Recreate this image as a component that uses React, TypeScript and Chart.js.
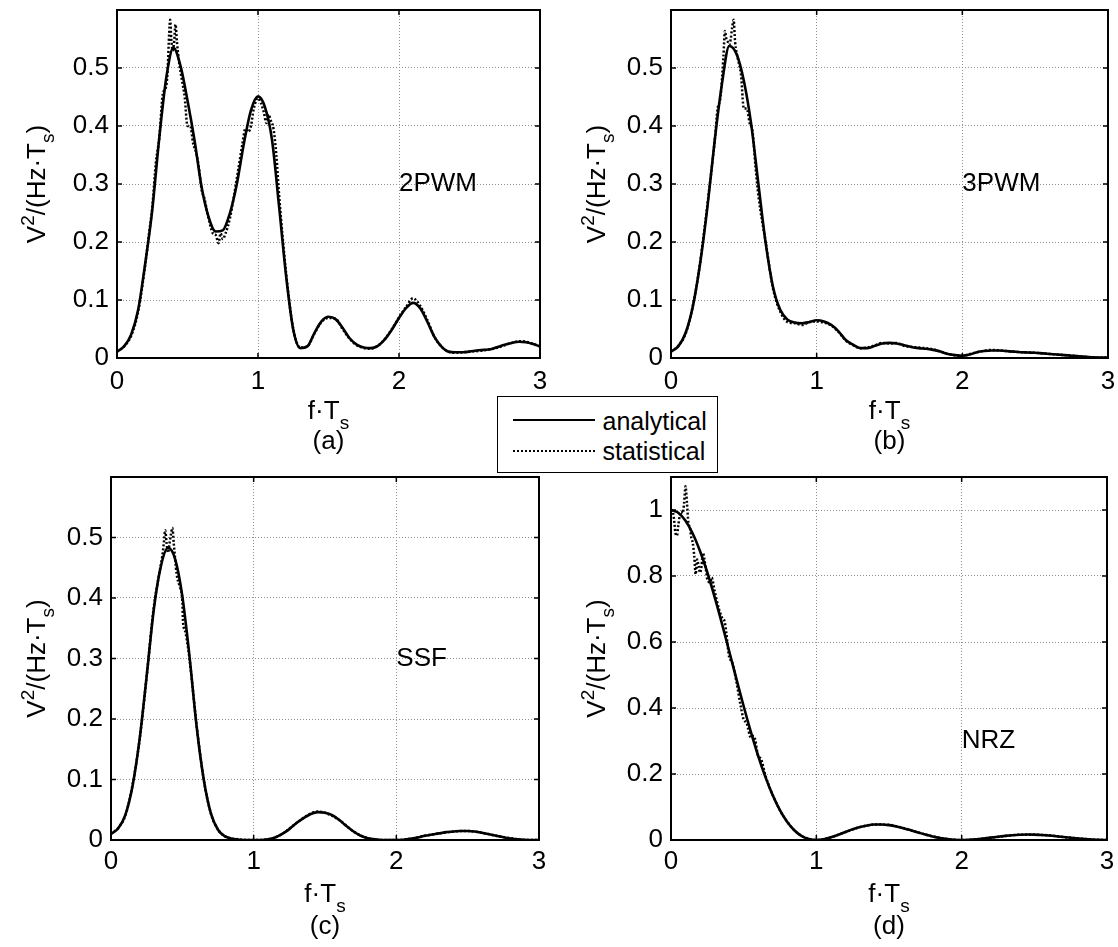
import React, { useEffect, useRef } from "react";
import { Chart, registerables } from "chart.js";

Chart.register(...registerables);

const FONT = '"Liberation Sans", Arial, Helvetica, sans-serif';
const FS = 25;
const SUB = 19;

// ---------- data ----------
const freqGrid = [0,0.05,0.1,0.15,0.2,0.25,0.3,0.35,0.4,0.45,0.5,0.55,0.6,0.65,0.7,0.75,0.8,0.85,0.9,0.95,1,1.05,1.1,1.15,1.2,1.25,1.3,1.35,1.4,1.45,1.5,1.55,1.6,1.65,1.7,1.75,1.8,1.85,1.9,1.95,2,2.05,2.1,2.15,2.2,2.25,2.3,2.35,2.4,2.45,2.5,2.55,2.6,2.65,2.7,2.75,2.8,2.85,2.9,2.95,3];

const pwm2Analytical = [0.011,0.02,0.04,0.083,0.163,0.255,0.38,0.484,0.535,0.504,0.444,0.375,0.295,0.243,0.218,0.22,0.249,0.3,0.37,0.427,0.451,0.432,0.375,0.26,0.14,0.049,0.017,0.02,0.043,0.063,0.071,0.067,0.052,0.034,0.023,0.018,0.017,0.021,0.032,0.049,0.069,0.086,0.095,0.086,0.063,0.037,0.02,0.011,0.01,0.01,0.011,0.013,0.014,0.015,0.019,0.023,0.026,0.028,0.027,0.024,0.02];
const pwm3Analytical = [0.011,0.02,0.043,0.089,0.163,0.26,0.375,0.473,0.538,0.524,0.478,0.404,0.3,0.198,0.123,0.083,0.066,0.061,0.06,0.062,0.065,0.063,0.057,0.046,0.031,0.023,0.017,0.017,0.021,0.025,0.026,0.025,0.022,0.019,0.017,0.016,0.014,0.011,0.007,0.005,0.004,0.006,0.01,0.012,0.013,0.013,0.012,0.011,0.01,0.0095,0.009,0.008,0.007,0.006,0.005,0.004,0.003,0.002,0.001,0.0008,0.0005];
const ssfAnalytical = [0.01,0.019,0.041,0.088,0.166,0.271,0.381,0.453,0.483,0.464,0.403,0.304,0.188,0.1,0.044,0.017,0.006,0.002,0.0005,0,0,0,0.001,0.004,0.01,0.018,0.028,0.036,0.043,0.046,0.045,0.041,0.033,0.023,0.014,0.007,0.003,0.001,0,0,0,0.0005,0.002,0.004,0.007,0.009,0.011,0.013,0.014,0.015,0.015,0.014,0.012,0.0095,0.007,0.0045,0.0025,0.001,0.0003,0,0];
const nrzAnalytical = [1,0.9918,0.9675,0.9281,0.8751,0.8106,0.7368,0.6566,0.5728,0.4881,0.4053,0.3268,0.2546,0.1904,0.1353,0.0901,0.0547,0.0289,0.0119,0.0027,0,0.00225,0.008,0.0158,0.0243,0.0324,0.0392,0.0441,0.0468,0.047,0.045,0.0411,0.0358,0.0295,0.0229,0.0165,0.0108,0.0061,0.0027,0.00065,0,0.00059,0.0022,0.0045,0.0072,0.01,0.0125,0.0146,0.0159,0.0165,0.0162,0.0152,0.0136,0.0115,0.0091,0.0067,0.0045,0.0026,0.0012,0.0003,0];

const pwm2StatFreq = [0,0.05,0.1,0.15,0.2,0.225,0.25,0.275,0.3,0.325,0.35,0.36,0.37,0.377,0.385,0.395,0.405,0.415,0.425,0.44,0.46,0.48,0.5,0.52,0.54,0.56,0.58,0.6,0.62,0.65,0.68,0.7,0.72,0.735,0.75,0.77,0.8,0.83,0.86,0.89,0.91,0.93,0.95,0.97,1,1.02,1.04,1.06,1.075,1.09,1.11,1.13,1.15,1.2,1.25,1.3,1.35,1.4,1.45,1.5,1.55,1.6,1.65,1.7,1.75,1.8,1.85,1.9,1.95,2,2.05,2.1,2.15,2.2,2.25,2.3,2.35,2.4,2.5,2.6,2.7,2.8,2.85,2.9,3];
const pwm2Statistical = [0.011,0.02,0.038,0.08,0.16,0.21,0.26,0.335,0.38,0.455,0.47,0.5,0.56,0.583,0.55,0.53,0.545,0.575,0.545,0.51,0.48,0.45,0.4,0.4,0.37,0.355,0.33,0.29,0.275,0.24,0.215,0.212,0.198,0.215,0.205,0.215,0.24,0.28,0.325,0.37,0.395,0.39,0.4,0.43,0.448,0.44,0.425,0.405,0.42,0.41,0.395,0.35,0.28,0.145,0.05,0.018,0.02,0.042,0.062,0.069,0.068,0.05,0.033,0.022,0.017,0.016,0.021,0.033,0.05,0.07,0.088,0.103,0.09,0.066,0.037,0.02,0.011,0.009,0.011,0.013,0.018,0.026,0.029,0.028,0.02];

const pwm3StatFreq = [0,0.05,0.1,0.15,0.2,0.25,0.3,0.32,0.34,0.36,0.37,0.38,0.39,0.4,0.41,0.42,0.43,0.44,0.46,0.48,0.5,0.52,0.54,0.56,0.58,0.6,0.65,0.7,0.75,0.8,0.85,0.9,0.95,1,1.05,1.1,1.15,1.2,1.25,1.3,1.35,1.4,1.45,1.5,1.55,1.6,1.7,1.8,1.9,2,2.1,2.2,2.3,2.4,2.5,2.6,2.7,2.8,2.9,3];
const pwm3Statistical = [0.011,0.021,0.042,0.09,0.165,0.265,0.375,0.43,0.45,0.52,0.564,0.55,0.545,0.54,0.55,0.57,0.583,0.545,0.515,0.49,0.43,0.43,0.405,0.39,0.33,0.28,0.2,0.12,0.08,0.062,0.06,0.057,0.062,0.063,0.061,0.056,0.045,0.03,0.022,0.017,0.018,0.022,0.026,0.025,0.026,0.021,0.018,0.015,0.007,0.004,0.01,0.014,0.012,0.01,0.009,0.007,0.005,0.003,0.001,0.001];

const ssfStatFreq = [0,0.05,0.1,0.15,0.2,0.25,0.3,0.33,0.36,0.37,0.38,0.39,0.4,0.41,0.42,0.43,0.44,0.46,0.48,0.5,0.505,0.52,0.55,0.6,0.65,0.7,0.75,0.8,0.9,1,1.1,1.2,1.3,1.4,1.45,1.5,1.6,1.7,1.8,1.9,2,2.1,2.2,2.3,2.4,2.5,2.6,2.7,2.8,2.9,3];
const ssfStatistical = [0.01,0.02,0.04,0.09,0.165,0.27,0.385,0.43,0.47,0.49,0.512,0.49,0.475,0.49,0.505,0.516,0.49,0.44,0.42,0.395,0.36,0.345,0.3,0.19,0.1,0.044,0.017,0.006,0.001,0,0.001,0.01,0.028,0.044,0.047,0.045,0.033,0.014,0.003,0,0,0.002,0.007,0.011,0.014,0.015,0.012,0.007,0.003,0,0];

const nrzStatFreq = [0,0.01,0.02,0.03,0.04,0.05,0.06,0.07,0.08,0.09,0.1,0.11,0.12,0.13,0.14,0.15,0.16,0.17,0.18,0.19,0.2,0.21,0.22,0.23,0.24,0.25,0.27,0.28,0.3,0.33,0.35,0.37,0.38,0.4,0.42,0.45,0.48,0.5,0.52,0.55,0.57,0.6,0.62,0.65,0.7,0.75,0.8,0.85,0.9,0.95,1,1.1,1.2,1.3,1.4,1.5,1.6,1.7,1.8,1.9,2,2.1,2.2,2.3,2.4,2.5,2.6,2.7,2.8,2.9,3];
const nrzStatistical = [1,0.998,0.975,0.932,0.922,0.952,0.983,0.995,0.99,1.02,1.072,1.02,0.96,0.947,0.915,0.9,0.86,0.805,0.85,0.83,0.81,0.83,0.87,0.85,0.82,0.79,0.78,0.795,0.755,0.7,0.675,0.66,0.63,0.555,0.54,0.48,0.405,0.365,0.355,0.31,0.315,0.255,0.245,0.195,0.136,0.09,0.055,0.029,0.012,0.003,0,0.008,0.024,0.039,0.047,0.046,0.036,0.023,0.011,0.003,0,0.002,0.007,0.012,0.016,0.016,0.014,0.009,0.005,0.001,0];

const xTickValues = [0, 1, 2, 3];
const yTicksPwm = [0, 0.1, 0.2, 0.3, 0.4, 0.5];
const yTicksNrz = [0, 0.2, 0.4, 0.6, 0.8, 1];
const panelNames = ["2PWM", "3PWM", "SSF", "NRZ"];
const panelLabels = ["(a)", "(b)", "(c)", "(d)"];
const legendLabels = ["analytical", "statistical"];

// ---------- layout ----------
type PanelCfg = {
  left: number; top: number; width: number; height: number;
  axisLeft: number; padRight: number; padTop: number; xAxisH: number;
  yMax: number; yTicks: number[];
  anaY: number[]; statX: number[]; statY: number[];
  name: string; label: string; yTitleX: number;
  tickPad: number; xTitleDy: number; subDy: number;
};

const panels: PanelCfg[] = [
  { left: 0, top: 0, width: 560, height: 470, axisLeft: 117, padRight: 20, padTop: 10, xAxisH: 112,
    yMax: 0.6, yTicks: yTicksPwm, anaY: pwm2Analytical, statX: pwm2StatFreq, statY: pwm2Statistical,
    name: panelNames[0], label: panelLabels[0], yTitleX: 45, tickPad: 8, xTitleDy: 61, subDy: 91 },
  { left: 560, top: 0, width: 558, height: 470, axisLeft: 111, padRight: 10, padTop: 10, xAxisH: 112,
    yMax: 0.6, yTicks: yTicksPwm, anaY: pwm3Analytical, statX: pwm3StatFreq, statY: pwm3Statistical,
    name: panelNames[1], label: panelLabels[1], yTitleX: 45, tickPad: 8, xTitleDy: 61, subDy: 91 },
  { left: 0, top: 470, width: 560, height: 477, axisLeft: 111, padRight: 21, padTop: 7, xAxisH: 107,
    yMax: 0.6, yTicks: yTicksPwm, anaY: ssfAnalytical, statX: ssfStatFreq, statY: ssfStatistical,
    name: panelNames[2], label: panelLabels[2], yTitleX: 45, tickPad: 6, xTitleDy: 62, subDy: 94 },
  { left: 560, top: 470, width: 558, height: 477, axisLeft: 111, padRight: 11, padTop: 7, xAxisH: 107,
    yMax: 1.1, yTicks: yTicksNrz, anaY: nrzAnalytical, statX: nrzStatFreq, statY: nrzStatistical,
    name: panelNames[3], label: panelLabels[3], yTitleX: 45, tickPad: 6, xTitleDy: 62, subDy: 94 },
];

type Seg = { t: string; size: number; dy: number };
const yTitleSegs: Seg[] = [
  { t: "V", size: 26, dy: 0 },
  { t: "2", size: SUB, dy: -11 },
  { t: "/(Hz\u00B7T", size: 26, dy: 0 },
  { t: "s", size: SUB, dy: 9 },
  { t: ")", size: 26, dy: 0 },
];
const xTitleSegs: Seg[] = [
  { t: "f\u00B7T", size: 26, dy: 0 },
  { t: "s", size: SUB, dy: 10 },
];

function drawRich(ctx: CanvasRenderingContext2D, segs: Seg[], cx: number, y: number) {
  let total = 0;
  for (const s of segs) {
    ctx.font = `${s.size}px ${FONT}`;
    total += ctx.measureText(s.t).width;
  }
  let x = cx - total / 2;
  ctx.textAlign = "left";
  ctx.textBaseline = "alphabetic";
  for (const s of segs) {
    ctx.font = `${s.size}px ${FONT}`;
    ctx.fillText(s.t, x, y + s.dy);
    x += ctx.measureText(s.t).width;
  }
}

function Panel({ cfg }: { cfg: PanelCfg }) {
  const ref = useRef<HTMLCanvasElement | null>(null);
  useEffect(() => {
    if (!ref.current) return;
    const TL = 5;
    const axesPlugin = {
      id: "matlabAxes",
      afterDraw(chart: any) {
        const { ctx, chartArea: ca, scales } = chart;
        const xs = scales.x, ys = scales.y;
        ctx.save();
        ctx.strokeStyle = "#000";
        ctx.lineWidth = 1.5;
        ctx.setLineDash([]);
        ctx.beginPath();
        for (const v of xTickValues) {
          const px = xs.getPixelForValue(v);
          ctx.moveTo(px, ca.bottom); ctx.lineTo(px, ca.bottom - TL);
          ctx.moveTo(px, ca.top); ctx.lineTo(px, ca.top + TL);
        }
        for (const v of cfg.yTicks) {
          const py = ys.getPixelForValue(v);
          ctx.moveTo(ca.left, py); ctx.lineTo(ca.left + TL, py);
          ctx.moveTo(ca.right, py); ctx.lineTo(ca.right - TL, py);
        }
        ctx.stroke();
        ctx.lineWidth = 2;
        ctx.strokeRect(ca.left, ca.top, ca.right - ca.left, ca.bottom - ca.top);

        ctx.fillStyle = "#000";
        ctx.font = `26px ${FONT}`;
        ctx.textAlign = "left";
        ctx.textBaseline = "middle";
        ctx.fillText(cfg.name, xs.getPixelForValue(2), ys.getPixelForValue(0.3));

        const cx = (ca.left + ca.right) / 2;
        drawRich(ctx, xTitleSegs, cx, ca.bottom + cfg.xTitleDy);
        ctx.font = `26px ${FONT}`;
        ctx.textAlign = "center";
        ctx.textBaseline = "alphabetic";
        ctx.fillText(cfg.label, cx, ca.bottom + cfg.subDy);

        ctx.translate(cfg.yTitleX, (ca.top + ca.bottom) / 2);
        ctx.rotate(-Math.PI / 2);
        drawRich(ctx, yTitleSegs, 0, 0);
        ctx.restore();
      },
    };

    const zeroPad = (s: any) => {
      s.paddingTop = 0; s.paddingBottom = 0; s.paddingLeft = 0; s.paddingRight = 0;
    };
    const fmt = (v: any) => String(+Number(v).toFixed(2));

    const chart = new Chart(ref.current, {
      type: "line",
      data: {
        datasets: [
          {
            label: legendLabels[1],
            data: cfg.statX.map((x, i) => ({ x, y: cfg.statY[i] })),
            borderColor: "#000",
            borderWidth: 2.5,
            borderDash: [2, 2],
            pointRadius: 0,
            fill: false,
            cubicInterpolationMode: "monotone",
            order: 1,
          },
          {
            label: legendLabels[0],
            data: freqGrid.map((x, i) => ({ x, y: cfg.anaY[i] })),
            borderColor: "#000",
            borderWidth: 2.6,
            pointRadius: 0,
            fill: false,
            cubicInterpolationMode: "monotone",
            order: 0,
          },
        ],
      },
      options: {
        animation: false,
        responsive: false,
        maintainAspectRatio: false,
        events: [],
        layout: { padding: { left: 0, top: cfg.padTop, right: cfg.padRight, bottom: 0 } },
        plugins: { legend: { display: false }, tooltip: { enabled: false } },
        scales: {
          x: {
            type: "linear",
            position: "bottom",
            min: 0,
            max: 3,
            afterBuildTicks: (s: any) => { s.ticks = xTickValues.map((v) => ({ value: v })); },
            afterFit: (s: any) => { s.height = cfg.xAxisH; zeroPad(s); },
            ticks: { font: { family: FONT, size: 26 }, color: "#000", padding: cfg.tickPad, maxRotation: 0, autoSkip: false, callback: fmt },
            grid: { color: "#8f8f8f", lineWidth: 1, drawTicks: false },
            border: { display: false, dash: [1, 2] },
          },
          y: {
            type: "linear",
            position: "left",
            min: 0,
            max: cfg.yMax,
            afterBuildTicks: (s: any) => { s.ticks = cfg.yTicks.map((v) => ({ value: v })); },
            afterFit: (s: any) => { s.width = cfg.axisLeft; zeroPad(s); },
            ticks: { font: { family: FONT, size: 26 }, color: "#000", padding: 8, autoSkip: false, callback: fmt },
            grid: { color: "#8f8f8f", lineWidth: 1, drawTicks: false },
            border: { display: false, dash: [1, 2] },
          },
        },
      } as any,
      plugins: [axesPlugin as any],
    });
    return () => chart.destroy();
  }, [cfg]);

  return (
    <canvas
      ref={ref}
      width={cfg.width}
      height={cfg.height}
      style={{ position: "absolute", left: cfg.left, top: cfg.top, width: cfg.width, height: cfg.height }}
    />
  );
}

export default function App() {
  return (
    <div style={{ position: "absolute", left: 0, top: 0, width: 1118, height: 947, overflow: "hidden", background: "#fff" }}>
      {panels.map((p, i) => (
        <Panel key={i} cfg={p} />
      ))}
      <div
        style={{
          position: "absolute", left: 497, top: 396, width: 221, height: 77, boxSizing: "border-box",
          border: "1.5px solid #000", background: "#fff", fontFamily: FONT, fontSize: FS, color: "#000", zIndex: 5,
        }}
      >
        <div style={{ position: "absolute", left: 14.5, top: 22.3, width: 82, borderTop: "2.5px solid #000" }} />
        <div style={{ position: "absolute", left: 104.5, top: 8.5, lineHeight: "30px", whiteSpace: "nowrap" }}>{legendLabels[0]}</div>
        <div style={{ position: "absolute", left: 14.5, top: 52.5, width: 82, borderTop: "2px dotted #000" }} />
        <div style={{ position: "absolute", left: 104.5, top: 38.5, lineHeight: "30px", whiteSpace: "nowrap" }}>{legendLabels[1]}</div>
      </div>
    </div>
  );
}
